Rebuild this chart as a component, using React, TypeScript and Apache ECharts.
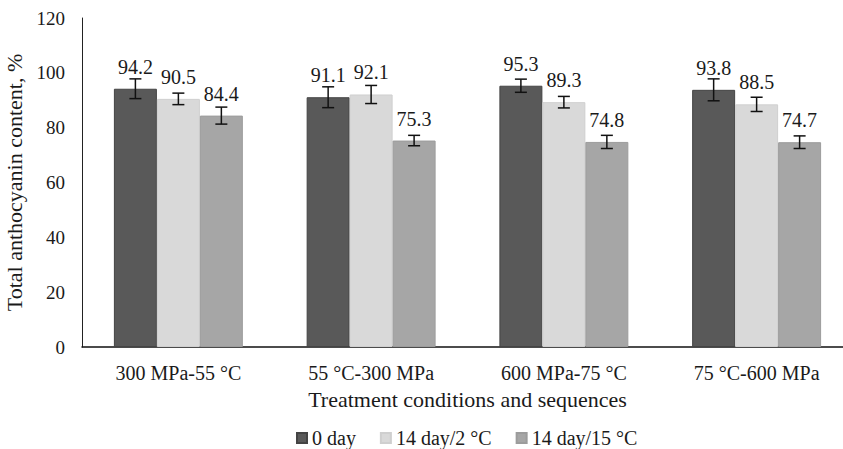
import React, { useEffect, useRef } from "react";
import * as echarts from "echarts";

const categories = ["300 MPa-55 °C", "55 °C-300 MPa", "600 MPa-75 °C", "75 °C-600 MPa"];
const seriesNames = ["0 day", "14 day/2 °C", "14 day/15 °C"];
const day0 = [94.2, 91.1, 95.3, 93.8];
const day14at2 = [90.5, 92.1, 89.3, 88.5];
const day14at15 = [84.4, 75.3, 74.8, 74.7];
const err0 = [3.6, 3.8, 2.4, 4.0];
const err2 = [2.1, 3.3, 2.1, 2.6];
const err15 = [3.1, 1.9, 2.4, 2.3];
const yTicks = [0, 20, 40, 60, 80, 100, 120];

const FONT = "'Liberation Serif', 'Times New Roman', serif";
const colors = ["#595959", "#d9d9d9", "#a6a6a6"];
const BAR_FRAC = 0.223;

export default function App() {
  const ref = useRef<HTMLDivElement>(null);
  useEffect(() => {
    if (!ref.current) return;
    const chart = echarts.init(ref.current, undefined, { renderer: "svg" });
    const values = [day0, day14at2, day14at15];
    const errs = [err0, err2, err15];

    const barSeries = values.map((vals, i) => ({
      name: seriesNames[i],
      type: "bar",
      data: vals,
      barWidth: BAR_FRAC * 100 + "%",
      barGap: "0%",
      itemStyle: {
        color: colors[i],
        borderColor: i === 0 ? "#444" : i === 1 ? "#cfcfcf" : "#9c9c9c",
        borderWidth: 1,
      },
      label: {
        show: true,
        position: "top",
        distance: 12,
        fontFamily: FONT,
        fontSize: 20,
        color: "#1a1a1a",
        formatter: (p: any) => p.value.toFixed(1),
      },
    }));

    const errSeries = values.map((vals, i) => ({
      name: seriesNames[i] + " error",
      type: "custom",
      data: vals.map((v, j) => [j, v, errs[i][j]]),
      z: 5,
      silent: true,
      renderItem: (params: any, api: any) => {
        const x = api.value(0);
        const v = api.value(1);
        const e = api.value(2);
        const c = api.coord([x, v]);
        const band = api.size([1, 0])[0];
        const bw = band * BAR_FRAC;
        const cx = c[0] + (i - 1) * bw;
        const top = api.coord([x, v + e])[1];
        const bot = api.coord([x, v - e])[1];
        const cap = 6;
        const st = { stroke: "#111", lineWidth: 1.5 };
        return {
          type: "group",
          children: [
            { type: "line", shape: { x1: cx, y1: top, x2: cx, y2: bot }, style: st },
            { type: "line", shape: { x1: cx - cap, y1: top, x2: cx + cap, y2: top }, style: st },
            { type: "line", shape: { x1: cx - cap, y1: bot, x2: cx + cap, y2: bot }, style: st },
          ],
        };
      },
    }));

    chart.setOption({
      animation: false,
      backgroundColor: "#ffffff",
      textStyle: { fontFamily: FONT },
      grid: {
        left: 82,
        right: -10,
        top: 18,
        bottom: 102,
        containLabel: false,
        outerBoundsMode: "none",
      },
      legend: {
        data: seriesNames,
        left: 291,
        top: 423,
        icon: "rect",
        itemWidth: 10,
        itemHeight: 10,
        itemGap: 24,
        textStyle: { fontFamily: FONT, fontSize: 20, color: "#1a1a1a" },
      },
      xAxis: {
        type: "category",
        data: categories,
        axisLine: { show: true, lineStyle: { color: "#111", width: 1.5 } },
        axisTick: { show: false },
        axisLabel: { fontFamily: FONT, fontSize: 20, color: "#1a1a1a", margin: 16 },
        name: "Treatment conditions and sequences",
        nameLocation: "middle",
        nameGap: 41,
        nameTextStyle: { fontFamily: FONT, fontSize: 22, color: "#1a1a1a" },
      },
      yAxis: {
        type: "value",
        min: yTicks[0],
        max: yTicks[yTicks.length - 1],
        interval: 20,
        axisLine: { show: true, lineStyle: { color: "#222", width: 1 } },
        axisTick: { show: false },
        splitLine: { show: false },
        axisLabel: { fontFamily: FONT, fontSize: 19, color: "#1a1a1a", margin: 17 },
        name: "Total anthocyanin content, %",
        nameLocation: "middle",
        nameGap: 50,
        nameTextStyle: { fontFamily: FONT, fontSize: 22, color: "#1a1a1a" },
      },
      series: [...barSeries, ...errSeries],
    });
    return () => chart.dispose();
  }, []);
  return (
    <div
      ref={ref}
      style={{ position: "fixed", left: 0, top: 0, width: 843, height: 449 }}
    />
  );
}
